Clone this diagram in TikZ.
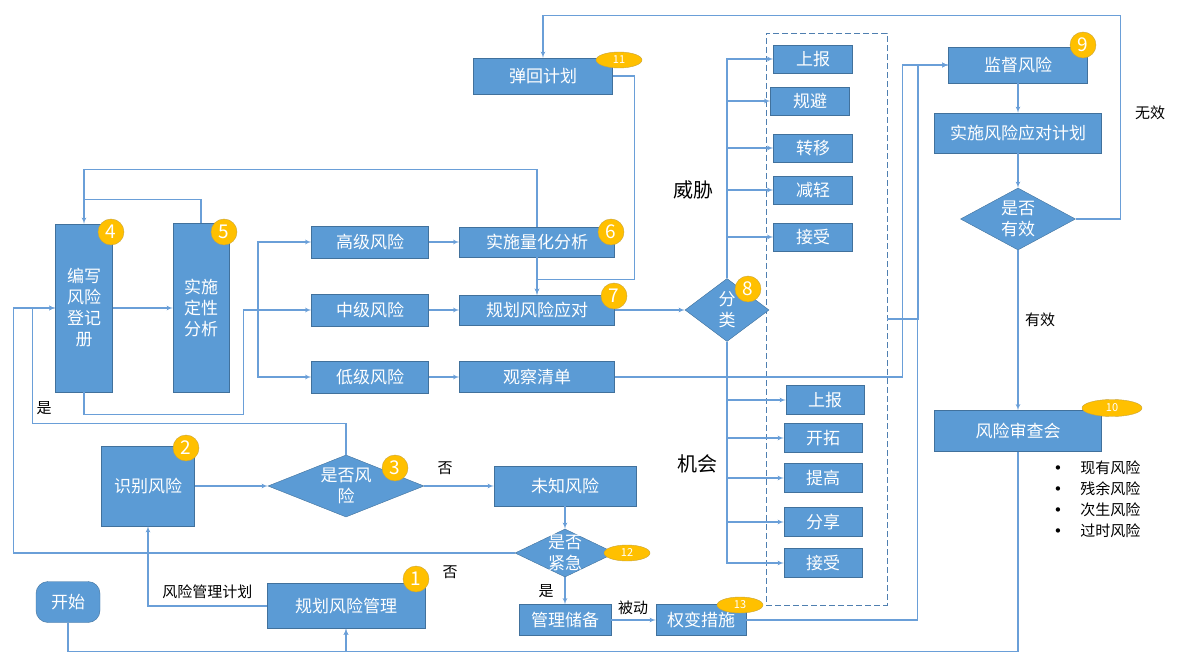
\documentclass[tikz,border=0pt]{standalone}
\usepackage{fontspec}
\setmainfont{Noto Sans CJK SC}
\newfontfamily\dotfont{DejaVu Sans}
\usetikzlibrary{arrows, positioning, shapes.geometric}
\definecolor{boxblue}{HTML}{5B9BD5}
\definecolor{boxedge}{HTML}{41719C}
\definecolor{lineblue}{HTML}{6A9FD8}
\definecolor{dashblue}{HTML}{4F7FB0}
\definecolor{badge}{HTML}{FFC000}
\definecolor{badgeedge}{HTML}{C9A43A}

\begin{document}
\begin{tikzpicture}[x=1pt, y=-1pt, >=latex', auto]
  \tikzstyle{blk}=[rectangle, fill=boxblue, draw=boxedge, text=white, inner sep=0pt, align=center, font=\fontsize{17}{21}\selectfont]
  \tikzstyle{dec}=[diamond, fill=boxblue, draw=boxedge, inner sep=0pt]
  \tikzstyle{dectxt}=[text=white, align=center, font=\fontsize{17}{21}\selectfont]
  \tikzstyle{num}=[circle, fill=badge, draw=badgeedge, text=white, minimum size=26pt, inner sep=0pt, font=\fontsize{19}{19}\selectfont]
  \tikzstyle{oval}=[ellipse, fill=badge, draw=badgeedge, text=white, minimum width=46pt, minimum height=16pt, inner sep=0pt, font=\fontsize{11}{11}\selectfont]
  \tikzstyle{wire}=[draw=lineblue, line width=1.1pt]
  \tikzstyle{link}=[wire, ->]
  \tikzstyle{lbl}=[text=black, font=\fontsize{15}{18}\selectfont]

  \useasboundingbox (0,0) rectangle (1180,668);

  % left part
  \node[blk, minimum width=64pt, minimum height=41pt, rounded corners=12pt] at (68,602) (start) {开始};
  \node[blk, minimum width=158pt, minimum height=45pt] at (346,606) (plan) {规划风险管理};
  \node[blk, minimum width=93pt, minimum height=80pt] at (148,486) (ident) {识别风险};
  \node[dec, minimum width=156pt, minimum height=62pt, label={[dectxt]center:是否风\\险}] at (346,486) (isrisk) {};
  \node[blk, minimum width=57pt, minimum height=168pt] at (84,308) (reg) {编写\\风险\\登记\\册};
  \node[blk, minimum width=56pt, minimum height=169pt] at (201,308) (qual) {实施\\定性\\分析};

  % risk levels
  \node[blk, minimum width=117pt, minimum height=32pt] at (370,242) (high) {高级风险};
  \node[blk, minimum width=117pt, minimum height=32pt] at (370,310) (mid) {中级风险};
  \node[blk, minimum width=117pt, minimum height=32pt] at (370,377) (low) {低级风险};
  \node[blk, minimum width=155pt, minimum height=30pt] at (537,242) (quant) {实施量化分析};
  \node[blk, minimum width=155pt, minimum height=30pt] at (537,310) (respond) {规划风险应对};
  \node[blk, minimum width=155pt, minimum height=31pt] at (537,377) (watch) {观察清单};
  \node[blk, minimum width=139pt, minimum height=36pt] at (543,76) (rebound) {弹回计划};

  % unknown risks
  \node[blk, minimum width=142pt, minimum height=40pt] at (565,486) (unknown) {未知风险};
  \node[dec, minimum width=100pt, minimum height=48pt, label={[dectxt]center:是否\\紧急}] at (565,553) (urgent) {};
  \node[blk, minimum width=92pt, minimum height=31pt] at (565,620) (reserve) {管理储备};
  \node[blk, minimum width=90pt, minimum height=31pt] at (701,620) (cont) {权变措施};

  % strategies
  \node[draw=dashblue, dash pattern=on 6pt off 3pt, minimum width=121pt, minimum height=572pt, inner sep=0pt] at (826.5,319) (grp) {};
  \node[dec, minimum width=84pt, minimum height=63pt, label={[dectxt]center:分\\类}] at (727,310) (cls) {};
  \node[blk, minimum width=79pt, minimum height=28pt] at (813,59) (t1) {上报};
  \node[blk, minimum width=79pt, minimum height=28pt] at (810,101) (t2) {规避};
  \node[blk, minimum width=79pt, minimum height=28pt] at (813,148) (t3) {转移};
  \node[blk, minimum width=79pt, minimum height=28pt] at (813,190) (t4) {减轻};
  \node[blk, minimum width=79pt, minimum height=28pt] at (813,237) (t5) {接受};
  \node[blk, minimum width=78pt, minimum height=29pt] at (825,400) (o1) {上报};
  \node[blk, minimum width=78pt, minimum height=29pt] at (823,438) (o2) {开拓};
  \node[blk, minimum width=78pt, minimum height=29pt] at (823,478) (o3) {提高};
  \node[blk, minimum width=78pt, minimum height=29pt] at (823,522) (o4) {分享};
  \node[blk, minimum width=78pt, minimum height=29pt] at (823,563) (o5) {接受};
  \node[font=\fontsize{20}{24}\selectfont] at (693,190) (threat) {威胁};
  \node[font=\fontsize{20}{24}\selectfont] at (697,464) (chance) {机会};

  % monitoring
  \node[blk, minimum width=139pt, minimum height=36pt] at (1018,65) (monitor) {监督风险};
  \node[blk, minimum width=167pt, minimum height=40pt] at (1018,133) (apply) {实施风险应对计划};
  \node[dec, minimum width=115pt, minimum height=62pt, label={[dectxt]center:是否\\有效}] at (1018,219) (eff) {};
  \node[blk, minimum width=167pt, minimum height=41pt] at (1018,431) (review) {风险审查会};
  \node[lbl, anchor=west] at (1050,468) (r1) {{\dotfont •}\hspace{18pt}现有风险};
  \node[lbl, anchor=west] at (1050,489) (r2) {{\dotfont •}\hspace{18pt}残余风险};
  \node[lbl, anchor=west] at (1050,510) (r3) {{\dotfont •}\hspace{18pt}次生风险};
  \node[lbl, anchor=west] at (1050,531) (r4) {{\dotfont •}\hspace{18pt}过时风险};

  % connectors
  \draw[link] (start.south) -- ++(0,29) -| (plan.south);
  \draw[link] (review.south) -- ++(0,200) -| (plan.south);
  \draw[link] (plan.west) -| node[lbl, pos=0.25, above=3pt] {风险管理计划} (ident.south);
  \draw[link] (ident) -- (isrisk);
  \draw[link] (isrisk.north) -- ++(0,-31) -| ([xshift=-23pt]reg.west) -- (reg.west);
  \draw[link] (urgent.west) -| ([xshift=-42pt]reg.west) -- (reg.west);
  \draw[link] (reg) -- (qual);
  \draw[wire] (qual.north) |- ([yshift=24pt]reg.north);
  \draw[link] (quant.north) |- ([yshift=54pt]reg.north) -- (reg.north);
  \draw[link] (reg.south) -- ++(0,22) -| ([xshift=-68pt]mid.west) -- (mid.west);
  \coordinate (fan) at (258,310);
  \draw[link] (fan) |- (high.west);
  \draw[link] (fan) |- (low.west);
  \draw[link] (high) -- (quant);
  \draw[link] (mid) -- (respond);
  \draw[link] (low) -- (watch);
  \draw[link] (quant) -- (respond);
  \draw[link] (rebound.east) -- ++(22,0) |- ([yshift=15pt]respond.north) -- (respond.north);
  \draw[link] (respond) -- (cls);
  \foreach \n in {t1,t2,t3,t4,t5}
    \draw[link] (cls.north) |- (\n.west);
  \foreach \n in {o1,o2,o3,o4,o5}
    \draw[link] (cls.south) |- (\n.west);
  \draw[link] (grp.east) -- ++(31,0) |- (monitor.west);
  \draw[link] (watch.east) -| ([xshift=-46pt]monitor.west) -- (monitor.west);
  \draw[link] (cont.east) -| ([xshift=-31pt]monitor.west) -- (monitor.west);
  \draw[link] (monitor) -- (apply);
  \draw[link] (apply) -- (eff);
  \draw[link] (eff.east) -- ++(45,0) |- ([yshift=42pt]rebound.north) -- (rebound.north);
  \draw[link] (eff) -- (review);
  \draw[link] (isrisk) -- (unknown);
  \draw[link] (unknown) -- (urgent);
  \draw[link] (urgent) -- (reserve);
  \draw[link] (reserve) -- (cont);

  % labels
  \node[lbl] at (44,408) (yes1) {是};
  \node[lbl] at (445,468) (no1) {否};
  \node[lbl] at (450,572) (no2) {否};
  \node[lbl] at (546,591) (yes2) {是};
  \node[lbl] at (633,608) (passive) {被动};
  \node[lbl] at (1150,113) (invalid) {无效};
  \node[lbl] at (1040,320) (valid) {有效};

  % badges
  \node[num] at (416,579) (b1) {1};
  \node[num] at (186,448) (b2) {2};
  \node[num] at (395,468) (b3) {3};
  \node[num] at (111,232) (b4) {4};
  \node[num] at (224,232) (b5) {5};
  \node[num] at (611,232) (b6) {6};
  \node[num] at (614,296) (b7) {7};
  \node[num] at (748,289) (b8) {8};
  \node[num] at (1083,45) (b9) {9};
  \node[oval, minimum width=60pt, minimum height=17pt] at (1112,408) (b10) {10};
  \node[oval] at (619,60) (b11) {11};
  \node[oval] at (627,553) (b12) {12};
  \node[oval] at (740,605) (b13) {13};

\end{tikzpicture}
\end{document}
